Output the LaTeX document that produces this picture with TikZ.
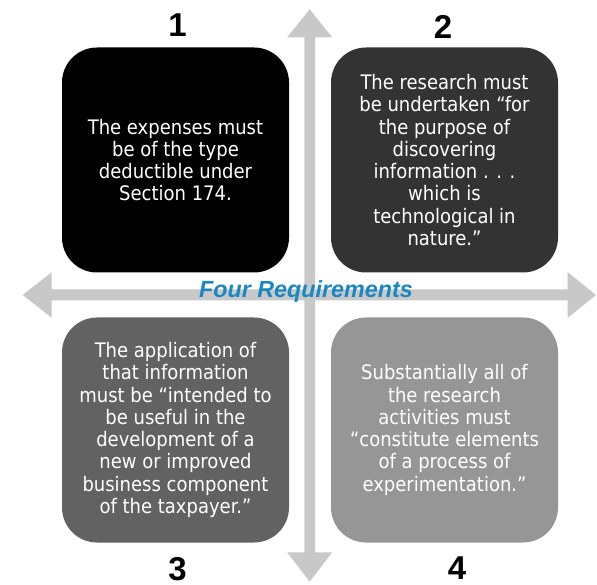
\documentclass[tikz,border=0pt]{standalone}
\usepackage{fontspec}
\setmainfont{DejaVu Sans Condensed}
\newfontfamily\numfont{Liberation Sans}
\definecolor{arrowgray}{RGB}{200,200,200}
\definecolor{boxA}{RGB}{0,0,0}
\definecolor{boxB}{RGB}{51,51,51}
\definecolor{boxC}{RGB}{98,98,98}
\definecolor{boxD}{RGB}{150,150,150}
\definecolor{titleblue}{RGB}{25,135,195}
\begin{document}
\begin{tikzpicture}[x=1pt,y=-1pt,
  quad/.style={rounded corners=35pt, minimum width=227pt, minimum height=225pt,
    inner sep=0pt, align=center, text=white,
    font=\fontsize{20}{22.3}\selectfont},
  num/.style={inner sep=0pt, font=\numfont\bfseries\fontsize{33}{36}\selectfont},
]
\useasboundingbox (0,0) rectangle (597,585);
% horizontal double arrow
\fill[arrowgray] (22.7,295) -- (51.7,272.2) -- (51.7,289.5) -- (567.7,289.5) -- (567.7,272.2)
  -- (596,295) -- (567.7,317.8) -- (567.7,300.5) -- (51.7,300.5) -- (51.7,317.8) -- cycle;
% vertical double arrow
\fill[arrowgray] (309.7,9.3) -- (332.2,37.3) -- (315,37.3) -- (315,552.3) -- (332.2,552.3)
  -- (309.7,581.7) -- (287.2,552.3) -- (304.4,552.3) -- (304.4,37.3) -- (287.2,37.3) -- cycle;
% boxes
\node[quad, fill=boxA] (q1) at (175.5,160) {The expenses must\\be of the type\\deductible under\\Section 174.};
\node[quad, fill=boxB] (q2) at (444.5,160) {The research must\\be undertaken “for\\the purpose of\\discovering\\information . . .\\which is\\technological in\\nature.”};
\node[quad, fill=boxC] (q3) at (175.5,430) {The application of\\that information\\must be “intended to\\be useful in the\\development of a\\new or improved\\business component\\of the taxpayer.”};
\node[quad, fill=boxD] (q4) at (444.5,430) {Substantially all of\\the research\\activities must\\“constitute elements\\of a process of\\experimentation.”};
% numbers
\node[num] (n1) at (177.5,24.7) {1};
\node[num] (n2) at (443,26.7) {2};
\node[num] (n3) at (177.5,569.5) {3};
\node[num] (n4) at (457,568) {4};
% title
\node[inner sep=0pt, text=titleblue, font=\numfont\bfseries\itshape\fontsize{23.3}{25}\selectfont] (title) at (306,291) {Four Requirements};
\end{tikzpicture}
\end{document}
